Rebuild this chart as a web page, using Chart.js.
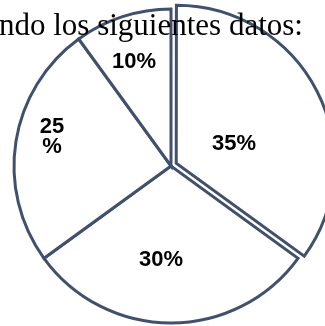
<!DOCTYPE html>
<html>
<head>
<meta charset="utf-8">
<script src="https://cdn.jsdelivr.net/npm/chart.js@4.4.1/dist/chart.umd.min.js"></script>
<style>
  html, body { margin: 0; padding: 0; background: #ffffff; overflow: hidden; width: 325px; height: 326px; }
  #wrap { position: relative; width: 325px; height: 326px; overflow: hidden; }
  #pie { position: absolute; left: 0; top: 0; }
  #heading {
    position: absolute; left: -1px; top: 9px; z-index: 2;
    font-family: "Liberation Serif", "Times New Roman", serif;
    font-size: 31px; line-height: 31px; color: #000; white-space: nowrap;
  }
</style>
</head>
<body>
<div id="wrap">
  <canvas id="pie" width="342" height="332"></canvas>
  <div id="heading">ndo los siguientes datos:</div>
</div>
<script>
// Slice values (percent), clockwise from 12 o'clock
const categories = ['A', 'B', 'C', 'D'];
const values = [35, 30, 25, 10];
// Exploded distance for each slice (Chart.js offset units)
const explode = [23.5, 0, 0, 0];
// Label placement inside each slice: fraction along the arc and fraction of the radius
const labelAlong = [0.558, 0.557, 0.562, 0.467];
const labelRadius = [0.384, 0.593, 0.783, 0.715];
// Labels that wrap the % sign onto a second line
const labelWrap = [false, false, true, false];

const edgeColor = '#42516b';

const sliceLabels = {
  id: 'sliceLabels',
  afterDatasetsDraw(chart) {
    const ctx = chart.ctx;
    const meta = chart.getDatasetMeta(0);
    ctx.save();
    ctx.fillStyle = '#000000';
    ctx.font = 'bold 22px "Liberation Sans", Arial, sans-serif';
    ctx.textAlign = 'center';
    ctx.textBaseline = 'alphabetic';
    const capHalf = 0.716 * 22 / 2;
    meta.data.forEach((arc, i) => {
      const p = arc.getProps(['x', 'y', 'startAngle', 'endAngle', 'outerRadius', 'circumference']);
      const mid = (p.startAngle + p.endAngle) / 2;
      // same translation Chart.js applies to an offset arc
      const o = (explode[i] || 0) / 4;
      const fix = 1 - Math.sin(Math.min(Math.PI, p.circumference || 0));
      const shift = o + o * fix;
      const cx = p.x + Math.cos(mid) * shift;
      const cy = p.y + Math.sin(mid) * shift;
      const a = p.startAngle + labelAlong[i] * (p.endAngle - p.startAngle);
      const r = labelRadius[i] * p.outerRadius;
      const lx = cx + Math.cos(a) * r;
      const ly = cy + Math.sin(a) * r;
      const text = values[i] + '%';
      const lines = labelWrap[i] ? [String(values[i]), '%'] : [text];
      const lh = 20;
      const top = ly - (lines.length - 1) * lh / 2;
      lines.forEach((t, k) => {
        ctx.fillText(t, lx, top + k * lh + capHalf);
      });
    });
    ctx.restore();
  }
};

new Chart(document.getElementById('pie'), {
  type: 'pie',
  data: {
    labels: categories,
    datasets: [{
      data: values,
      backgroundColor: '#ffffff',
      borderColor: edgeColor,
      borderWidth: 3,
      borderJoinStyle: 'miter',
      offset: explode,
      radius: 157
    }]
  },
  options: {
    responsive: false,
    animation: false,
    layout: { padding: 0 },
    plugins: {
      legend: { display: false },
      tooltip: { enabled: false },
      title: { display: false }
    },
    events: []
  },
  plugins: [sliceLabels]
});
</script>
</body>
</html>
